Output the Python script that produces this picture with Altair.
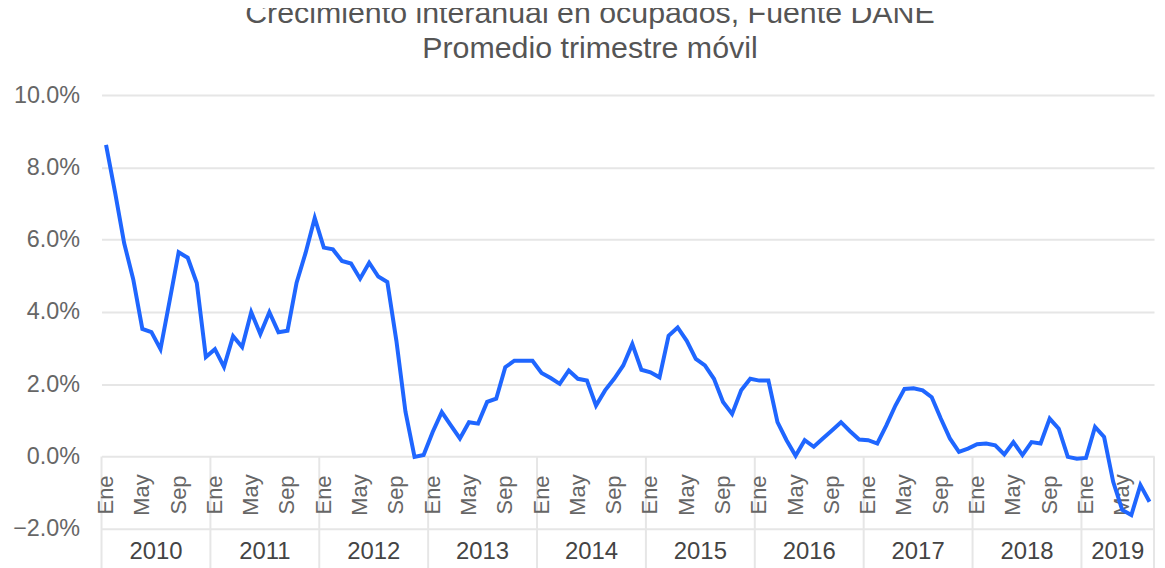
import altair as alt
import pandas as pd

title_lines = ["Crecimiento interanual en ocupados, Fuente DANE", "Promedio trimestre móvil"]
years = [2010, 2011, 2012, 2013, 2014, 2015, 2016, 2017, 2018, 2019]
month_names = ["Ene", "Feb", "Mar", "Abr", "May", "Jun", "Jul", "Ago", "Sep", "Oct", "Nov", "Dic"]
shown_months = ["Ene", "May", "Sep"]
y_ticks = [-2, 0, 2, 4, 6, 8, 10]

v2010 = [8.62, 7.3, 5.9, 4.9, 3.53, 3.44, 2.97, 4.3, 5.65, 5.5, 4.8, 2.75]
v2011 = [2.97, 2.48, 3.33, 3.03, 3.99, 3.39, 3.99, 3.44, 3.48, 4.81, 5.64, 6.6]
v2012 = [5.78, 5.73, 5.41, 5.34, 4.92, 5.36, 4.98, 4.83, 3.2, 1.24, -0.01, 0.04]
v2013 = [0.68, 1.23, 0.86, 0.50, 0.95, 0.91, 1.51, 1.60, 2.47, 2.65, 2.65, 2.65]
v2014 = [2.31, 2.17, 2.01, 2.38, 2.15, 2.10, 1.41, 1.83, 2.15, 2.52, 3.11, 2.40]
v2015 = [2.33, 2.19, 3.34, 3.57, 3.2, 2.70, 2.52, 2.15, 1.51, 1.18, 1.83, 2.15]
v2016 = [2.10, 2.10, 0.95, 0.45, 0.02, 0.45, 0.27, 0.50, 0.72, 0.95, 0.70, 0.47]
v2017 = [0.45, 0.36, 0.86, 1.41, 1.87, 1.89, 1.83, 1.64, 1.05, 0.50, 0.13, 0.22]
v2018 = [0.34, 0.36, 0.31, 0.06, 0.40, 0.04, 0.40, 0.36, 1.05, 0.77, -0.01, -0.06]
v2019 = [-0.04, 0.82, 0.54, -0.70, -1.48, -1.62, -0.79, -1.25]

series = [v2010, v2011, v2012, v2013, v2014, v2015, v2016, v2017, v2018, v2019]

rows = []
idx = 0
for year, vals in zip(years, series):
    for m, v in enumerate(vals):
        rows.append({"i": idx, "year": year, "month": month_names[m], "value": v})
        idx += 1
df = pd.DataFrame(rows)
n = len(df)

month_df = df[df["month"].isin(shown_months)]
year_df = df.groupby("year")["i"].agg(["min", "max"]).reset_index()
year_df["center"] = (year_df["min"] + year_df["max"]) / 2
year_df["label"] = year_df["year"].astype(str)
bounds_df = pd.DataFrame({"b": list(year_df["min"] - 0.5) + [n - 0.5]})

W, H = 1058, 436
xs = alt.Scale(domain=[-0.5, n - 0.5], nice=False, zero=False)
ys = alt.Scale(domain=[-2, 10], nice=False, zero=False)
FONT = "Liberation Sans"

yaxis = alt.Axis(
    values=y_ticks,
    labelExpr="format(datum.value, '.1f') + '%'",
    grid=True, gridColor="#e6e6e6", gridWidth=2,
    domain=False, ticks=False, labelPadding=22,
    labelFontSize=23.5, labelColor="#666666", labelFont=FONT, title=None,
)

rules = alt.Chart(bounds_df).mark_rule(color="#e6e6e6", strokeWidth=2).encode(
    x=alt.X("b:Q", scale=xs, axis=None),
    y=alt.Y(datum=0, scale=ys, axis=yaxis),
    y2=alt.value(H + 60),
)

months = alt.Chart(month_df).mark_text(
    angle=270, align="center", baseline="middle", fontSize=22, font=FONT, color="#666666"
).encode(
    x=alt.X("i:Q", scale=xs, axis=None),
    y=alt.value(402),
    text="month:N",
)

year_labels = alt.Chart(year_df).mark_text(
    align="center", baseline="middle", fontSize=24, font=FONT, color="#444444"
).encode(
    x=alt.X("center:Q", scale=xs, axis=None),
    y=alt.value(459),
    text="label:N",
)

line = alt.Chart(df).mark_line(color="#1f66ff", strokeWidth=4).encode(
    x=alt.X("i:Q", scale=xs, axis=None),
    y=alt.Y("value:Q", scale=ys, axis=yaxis),
)

chart = alt.layer(rules, months, year_labels, line).properties(
    width=W, height=H,
    autosize=alt.AutoSizeParams(type="none"),
    padding={"left": 94, "top": 86, "right": 3, "bottom": 60},
    title=alt.TitleParams(
        text=title_lines, fontSize=30.5, lineHeight=35, color="#555555",
        font=FONT, fontWeight="normal", anchor="middle", offset=19, dx=-38,
    ),
).configure_view(stroke=None)

chart.save("out.html", embed_options={"renderer": "svg", "actions": False})
